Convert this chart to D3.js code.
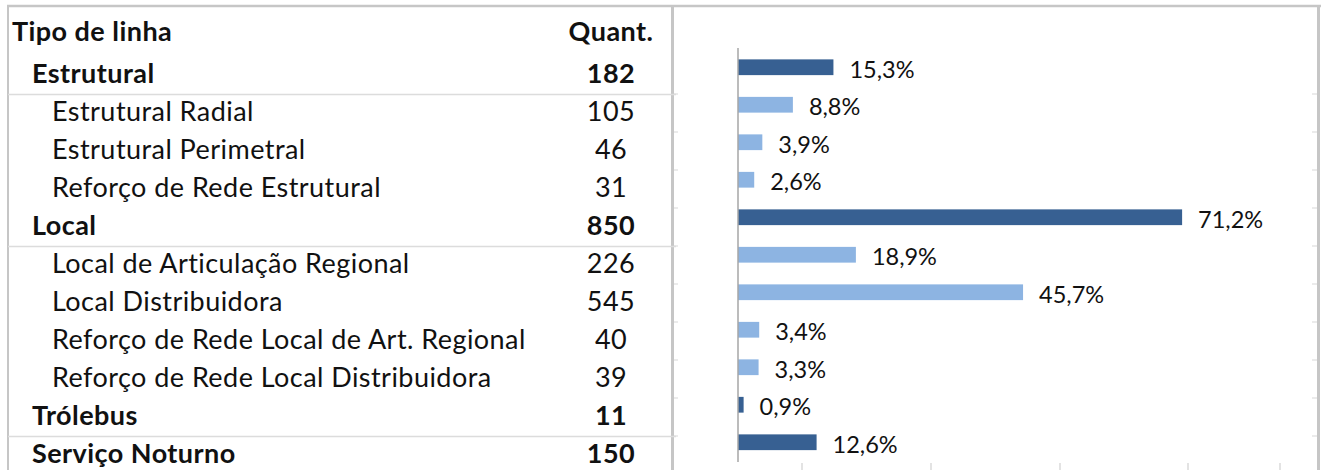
<!DOCTYPE html>
<html>
<head>
<meta charset="utf-8">
<script src="https://cdn.jsdelivr.net/npm/d3@7"></script>
<style>
  body { margin: 0; background: #fff; }
  text { font-family: Lato, "Noto Sans", sans-serif; fill: #111; }
  .tbl { letter-spacing: 0.45px; }
</style>
</head>
<body>
<div id="chart"></div>
<script>
// table + bar data
var categories = ["Estrutural", "Estrutural Radial", "Estrutural Perimetral", "Reforço de Rede Estrutural",
  "Local", "Local de Articulação Regional", "Local Distribuidora", "Reforço de Rede Local de Art. Regional",
  "Reforço de Rede Local Distribuidora", "Trólebus", "Serviço Noturno"];
var levels = [0, 1, 1, 1, 0, 1, 1, 1, 1, 0, 0];   // 0 = group, 1 = sub type
var quantities = [182, 105, 46, 31, 850, 226, 545, 40, 39, 11, 150];
var shares = [15.3, 8.8, 3.9, 2.6, 71.2, 18.9, 45.7, 3.4, 3.3, 0.9, 12.6];
var headers = ["Tipo de linha", "Quant."];

var W = 1326, H = 470;
var svg = d3.select("#chart").append("svg")
  .attr("width", W).attr("height", H);

var grey = "#c6c6c6", light = "#dcdcdc";
var fs = 27;

// row bands for table and for bars
var rowY = d3.scaleBand().domain(d3.range(categories.length)).range([56, 474]);
var barY = d3.scaleBand().domain(d3.range(categories.length)).range([48.5, 461]).paddingInner(0.58).paddingOuter(0.29);
var x = d3.scaleLinear().domain([0, 80]).range([738, 1237]);

// frame
svg.append("line").attr("x1", 7).attr("x2", 1321).attr("y1", 6).attr("y2", 6)
  .attr("stroke", grey).attr("stroke-width", 2.5);
svg.append("line").attr("x1", 8).attr("x2", 8).attr("y1", 5).attr("y2", H)
  .attr("stroke", grey).attr("stroke-width", 2);
svg.append("line").attr("x1", 672.5).attr("x2", 672.5).attr("y1", 5).attr("y2", H)
  .attr("stroke", grey).attr("stroke-width", 3);
svg.append("line").attr("x1", 1318.5).attr("x2", 1318.5).attr("y1", 5).attr("y2", H)
  .attr("stroke", grey).attr("stroke-width", 3);

// faint sheet gridline stubs at every row boundary
var edges = d3.range(1, categories.length).map(function(i) { return rowY(i); });
svg.selectAll(".stubL").data(edges).enter().append("line")
  .attr("x1", 674).attr("x2", 678).attr("y1", function(d) { return d; }).attr("y2", function(d) { return d; })
  .attr("stroke", "#e4e4e4").attr("stroke-width", 1.5);
svg.selectAll(".stubR").data(edges).enter().append("line")
  .attr("x1", 1312).attr("x2", 1317).attr("y1", function(d) { return d; }).attr("y2", function(d) { return d; })
  .attr("stroke", "#e4e4e4").attr("stroke-width", 1.5);

// sheet column edges peeking under the chart
var colEdges = [802, 931, 1060, 1188, 1280];
svg.selectAll(".colEdge").data(colEdges).enter().append("line")
  .attr("x1", function(d) { return d; }).attr("x2", function(d) { return d; })
  .attr("y1", 463).attr("y2", H)
  .attr("stroke", "#dadada").attr("stroke-width", 1.5);

// separators under the group rows
var groupIdx = d3.range(categories.length).filter(function(i) { return levels[i] === 0; });
svg.selectAll(".sep").data(groupIdx).enter().append("line")
  .attr("x1", 8).attr("x2", 676)
  .attr("y1", function(i) { return rowY(i) + rowY.bandwidth() + 0.5; })
  .attr("y2", function(i) { return rowY(i) + rowY.bandwidth() + 0.5; })
  .attr("stroke", light).attr("stroke-width", 1.5);

// header
svg.append("text").attr("class", "tbl").attr("x", 12).attr("y", 41).attr("font-size", fs)
  .attr("font-weight", "bold").text(headers[0]);
svg.append("text").attr("class", "tbl").attr("x", 611).attr("y", 41).attr("font-size", fs)
  .attr("font-weight", "bold").attr("text-anchor", "middle").text(headers[1]);

// table rows
var rows = svg.selectAll(".row").data(d3.range(categories.length)).enter().append("g")
  .attr("transform", function(i) { return "translate(0," + (rowY(i) + rowY.bandwidth() / 2) + ")"; });
rows.append("text").attr("class", "tbl")
  .attr("x", function(i) { return levels[i] === 0 ? 32 : 52; })
  .attr("dy", "0.31em").attr("font-size", fs)
  .attr("font-weight", function(i) { return levels[i] === 0 ? "bold" : "normal"; })
  .text(function(i) { return categories[i]; });
rows.append("text").attr("class", "tbl")
  .attr("x", 611).attr("dy", "0.31em").attr("font-size", fs).attr("text-anchor", "middle")
  .attr("font-weight", function(i) { return levels[i] === 0 ? "bold" : "normal"; })
  .text(function(i) { return quantities[i]; });

// bars
svg.selectAll(".bar").data(d3.range(categories.length)).enter().append("rect")
  .attr("x", x(0))
  .attr("y", function(i) { return barY(i); })
  .attr("width", function(i) { return x(shares[i]) - x(0); })
  .attr("height", barY.bandwidth())
  .attr("fill", function(i) { return levels[i] === 0 ? "#376092" : "#8db4e2"; });

// value labels
svg.selectAll(".lbl").data(d3.range(categories.length)).enter().append("text")
  .attr("x", function(i) { return x(shares[i]) + 16; })
  .attr("y", function(i) { return barY(i) + barY.bandwidth() / 2 + 2; })
  .attr("dy", "0.36em").attr("font-size", 23.5)
  .text(function(i) { return d3.format(".1f")(shares[i]).replace(".", ",") + "%"; });

// category axis line
svg.append("line").attr("x1", x(0)).attr("x2", x(0)).attr("y1", 48).attr("y2", 462)
  .attr("stroke", "#a6a6a6").attr("stroke-width", 1.5);
</script>
</body>
</html>
